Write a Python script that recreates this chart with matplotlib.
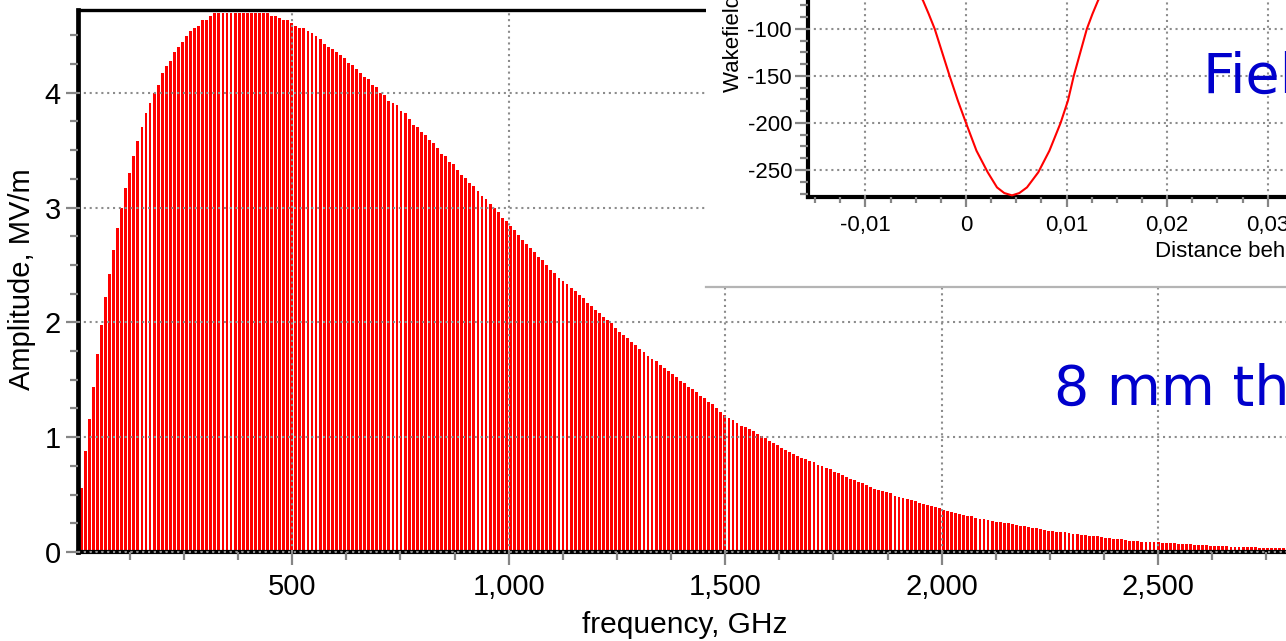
import numpy as np
import matplotlib
matplotlib.use("Agg")
import matplotlib.pyplot as plt
from matplotlib.ticker import MultipleLocator, FixedLocator, FuncFormatter
from matplotlib.patches import Rectangle
from matplotlib.lines import Line2D

plt.rcParams['font.family'] = ['Liberation Sans', 'DejaVu Sans']

# --- spectrum data: harmonic lines every F0 GHz, amplitudes in MV/m ---
F0 = 9.35
amps = [
    0.56, 0.88, 1.16, 1.44, 1.72, 1.98, 2.22, 2.42, 2.63, 2.82,
    3.00, 3.17, 3.30, 3.45, 3.58, 3.70, 3.82, 3.91, 4.00, 4.07,
    4.17, 4.23, 4.28, 4.35, 4.40, 4.44, 4.49, 4.54, 4.56,
    4.58, 4.63, 4.63, 4.67,
    4.69, 4.69, 4.69, 4.69, 4.69, 4.69, 4.69, 4.69, 4.69, 4.69, 4.69, 4.69, 4.69, 4.69,
    4.67, 4.67, 4.65, 4.63, 4.63, 4.61, 4.58, 4.56, 4.56, 4.54, 4.52,
    4.49, 4.47, 4.42, 4.40, 4.38, 4.35, 4.33, 4.30, 4.26, 4.24,
    4.21, 4.17, 4.14, 4.12, 4.07, 4.05, 4.00, 3.98, 3.93, 3.91,
    3.89, 3.84, 3.82, 3.77, 3.72, 3.70, 3.66, 3.63, 3.59, 3.56,
    3.52, 3.47, 3.45, 3.40, 3.38, 3.33, 3.28, 3.26, 3.21, 3.19,
    3.14, 3.10, 3.07, 3.03, 3.00, 2.96,
    2.91, 2.88, 2.84, 2.80, 2.76, 2.72, 2.68, 2.65, 2.61, 2.57,
    2.54, 2.50, 2.46, 2.43, 2.39, 2.36, 2.33, 2.30, 2.27, 2.24,
    2.21, 2.17, 2.14, 2.11, 2.08, 2.05, 2.02, 1.99, 1.95, 1.92,
    1.89, 1.86, 1.83, 1.80, 1.77, 1.74, 1.71, 1.68, 1.66, 1.63,
    1.60, 1.58, 1.55, 1.52, 1.49, 1.47, 1.44, 1.42, 1.39, 1.36,
    1.34, 1.31,
    1.29, 1.25, 1.22, 1.19, 1.17, 1.15, 1.12, 1.10, 1.09, 1.07,
    1.05, 1.03, 1.01, 0.99, 0.97, 0.95, 0.93, 0.91, 0.89, 0.87,
    0.85, 0.84, 0.82, 0.81, 0.79, 0.78, 0.76, 0.75, 0.73, 0.72,
    0.70, 0.69, 0.67, 0.65, 0.64, 0.63, 0.61, 0.60, 0.58, 0.57,
    0.55, 0.54, 0.53, 0.52, 0.51, 0.49, 0.48, 0.47, 0.46, 0.45,
    0.44, 0.43, 0.42, 0.41, 0.40, 0.39, 0.38, 0.37, 0.36, 0.35,
    0.34, 0.33, 0.32, 0.315, 0.31, 0.30, 0.29, 0.285, 0.28, 0.27,
    0.265, 0.26, 0.255, 0.25, 0.24, 0.235, 0.23, 0.225, 0.22, 0.21,
    0.205, 0.20, 0.19, 0.185, 0.18, 0.175, 0.17, 0.17, 0.165, 0.16,
    0.155, 0.15, 0.145, 0.14, 0.14, 0.135, 0.13, 0.125, 0.12, 0.115,
    0.11, 0.11, 0.105, 0.10, 0.10, 0.095, 0.09, 0.09, 0.088, 0.086,
    0.084, 0.082,
    0.08, 0.078, 0.076, 0.074, 0.072, 0.07, 0.068, 0.065, 0.063, 0.06,
    0.058, 0.056, 0.054, 0.052, 0.05, 0.048, 0.046, 0.045, 0.044, 0.043,
    0.042, 0.041, 0.04, 0.039, 0.038, 0.037, 0.036, 0.035, 0.034, 0.033, 0.032,
]
freq_ticks = [500, 1000, 1500, 2000, 2500]
amp_ticks = [0, 1, 2, 3, 4]

# --- inset: wakefield vs distance behind the bunch ---
wake_s = [-0.0048, -0.00427, -0.00371, -0.00311, -0.00163, -0.00082, 0.0,
          0.00104, 0.00216, 0.00308, 0.0038, 0.00457, 0.0053, 0.00606,
          0.00718, 0.00829, 0.0094, 0.01014, 0.01071, 0.01201, 0.01257,
          0.01312, 0.0136]
wake_v = [-60, -69.9, -84, -100, -150, -176, -200, -229.5, -252.5, -268.5,
          -274.5, -277, -274.5, -268.5, -252.5, -229.5, -200, -176, -150,
          -100, -84, -69.9, -60]
dist_ticks = [-0.01, 0.0, 0.01, 0.02, 0.03]
wake_ticks = [-250, -200, -150, -100]

W, H = 1286, 641
fig = plt.figure(figsize=(W / 100, H / 100), dpi=100)


def px_box(x0, y_top, x1, y_bot):
    # pixel box (from top-left) -> figure fraction rect
    return [x0 / W, 1 - y_bot / H, (x1 - x0) / W, (y_bot - y_top) / H]


GRID = dict(color='#8c8c8c', linestyle=(0, (1, 1.8)), linewidth=1.5)
TICKC = '#858585'

# ---------------- main spectrum ----------------
ax = fig.add_axes(px_box(77.5, 10, 1293.7, 552), zorder=0)
freqs = F0 * np.arange(1, len(amps) + 1)
ax.bar(freqs, amps, width=6.6, align='edge', color='#ff0000',
       edgecolor='none', zorder=1)
ax.set_xlim(4, 2813)
ax.set_ylim(0, 4.72)

ax.xaxis.set_major_locator(FixedLocator(freq_ticks))
ax.xaxis.set_major_formatter(FuncFormatter(lambda v, p: f'{int(v):,}'))
ax.xaxis.set_minor_locator(MultipleLocator(125))
ax.yaxis.set_major_locator(FixedLocator(amp_ticks))
ax.yaxis.set_minor_locator(MultipleLocator(0.25))
ax.tick_params(which='both', direction='out', color=TICKC, width=1.6,
               labelsize=21, labelcolor='black')
ax.tick_params(which='major', length=9)
ax.tick_params(axis='x', which='major', pad=6)
ax.tick_params(axis='y', which='major', pad=3)
ax.tick_params(which='minor', length=5.5)
ax.set_axisbelow(False)
ax.grid(True, which='major', **GRID)
ax.axhline(0, zorder=4, clip_on=False, **GRID)

for side, lw in [('left', 3.4), ('bottom', 3.0), ('top', 2.4)]:
    ax.spines[side].set_linewidth(lw)
    ax.spines[side].set_color('black')
ax.spines['right'].set_visible(False)

fig.text(22 / W, 1 - 279 / H, 'Amplitude, MV/m', rotation=90,
         ha='center', va='center', fontsize=21)
fig.text(685 / W, 1 - 625 / H, 'frequency, GHz', ha='center', va='center',
         fontsize=21.5)

# ---------------- pasted inset picture ----------------
fig.add_artist(Rectangle((706 / W, 1 - 287 / H), 1 - 706 / W, 287 / H + 0.01,
                         transform=fig.transFigure, facecolor='white',
                         edgecolor='none', zorder=1))
fig.add_artist(Line2D([706 / W, 1.0], [1 - 287 / H, 1 - 287 / H],
                      transform=fig.transFigure, color='#b4b4b4',
                      linewidth=1.6, zorder=1.1))

ins = fig.add_axes(px_box(808, -65.7, 1390, 196.7), zorder=2)
ins.patch.set_alpha(0)
ins.plot(wake_s, wake_v, color='#ff0000', linewidth=1.5, zorder=3)
ins.set_xlim(-0.01571, 0.04215)
ins.set_ylim(-278.4, 0.7)
ins.xaxis.set_major_locator(FixedLocator(dist_ticks))
ins.xaxis.set_major_formatter(FuncFormatter(
    lambda v, p: '0' if abs(v) < 1e-9 else f'{v:.2f}'.replace('.', ',')))
ins.xaxis.set_minor_locator(MultipleLocator(0.0025))
ins.yaxis.set_major_locator(FixedLocator(wake_ticks))
ins.yaxis.set_major_formatter(FuncFormatter(lambda v, p: f'{int(v)}'))
ins.yaxis.set_minor_locator(MultipleLocator(12.5))
ins.tick_params(which='both', direction='out', color=TICKC, width=1.6,
                labelsize=16, labelcolor='black')
ins.tick_params(axis='y', which='major', length=9.5, pad=2)
ins.tick_params(axis='y', which='minor', length=5.5)
ins.tick_params(axis='x', which='major', length=7.5, pad=6)
ins.tick_params(axis='x', which='minor', length=4)
ins.set_axisbelow(False)
ins.grid(True, which='major', **GRID)
for side in ['left', 'bottom']:
    ins.spines[side].set_linewidth(3.0)
    ins.spines[side].set_color('black')
for side in ['top', 'right']:
    ins.spines[side].set_visible(False)

fig.text(733 / W, 1 - 92 / H, 'Wakefield, kV/m', rotation=90, ha='center',
         va='bottom', fontsize=16, zorder=3)
fig.text(1155 / W, 1 - 252 / H, 'Distance behind the bunch, m', ha='left',
         va='center', fontsize=16, zorder=3)

BLUE = '#0000cc'
fig.text(1203 / W, 1 - 93 / H, 'Field', ha='left', va='baseline',
         fontsize=40, color=BLUE, family='DejaVu Sans', zorder=3)
fig.text(1054 / W, 1 - 405 / H, '8 mm thick', ha='left', va='baseline',
         fontsize=40, color=BLUE, family='DejaVu Sans', zorder=3)

fig.savefig('out.png', dpi=100)
